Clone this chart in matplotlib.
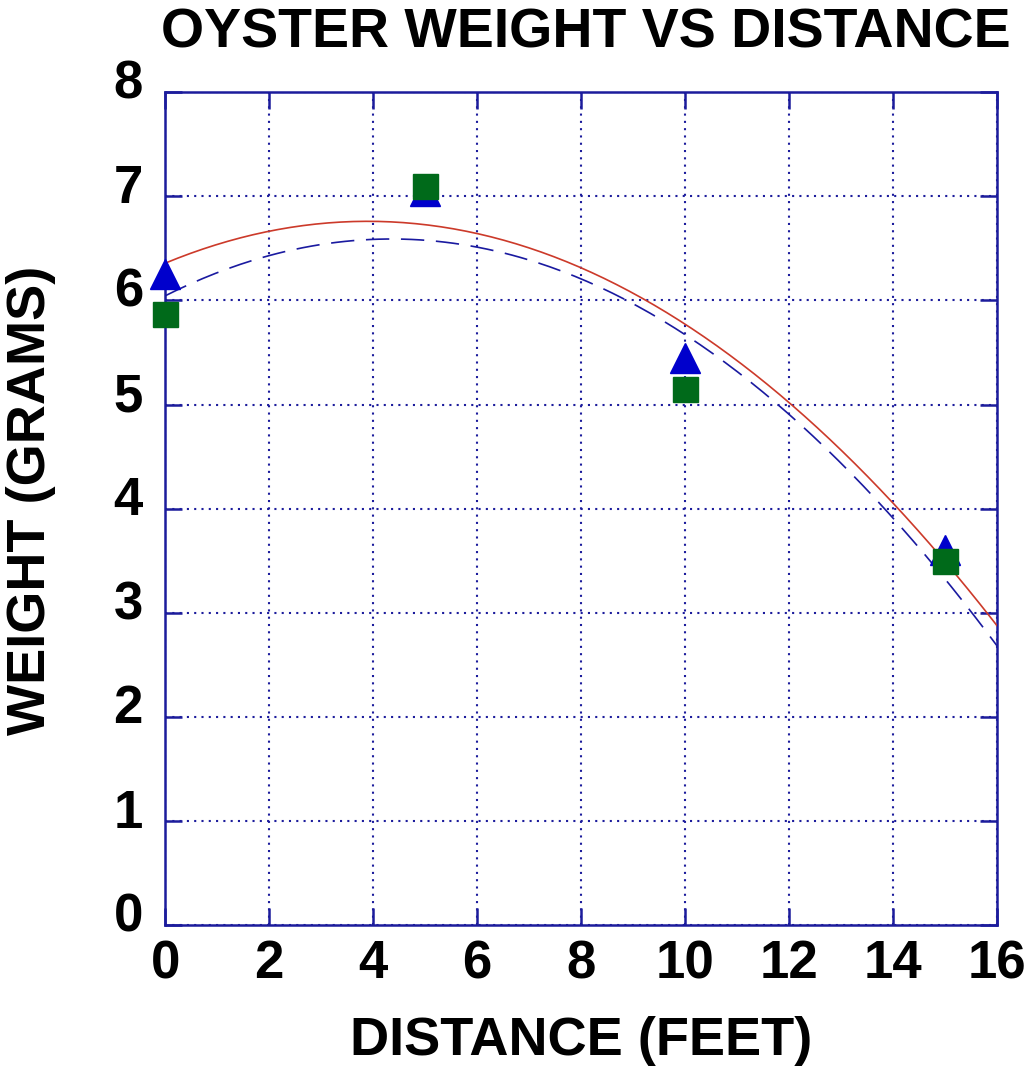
import matplotlib.pyplot as plt
import matplotlib.transforms as mtransforms
import numpy as np

# oyster data
distance = [0, 5, 10, 15]
weight_tri = [6.25, 7.05, 5.45, 3.6]
weight_sq = [5.87, 7.1, 5.15, 3.5]

x_ticks = [0, 2, 4, 6, 8, 10, 12, 14, 16]
y_ticks = [0, 1, 2, 3, 4, 5, 6, 7, 8]

plt.rcParams['font.family'] = ['Liberation Sans', 'DejaVu Sans']
plt.rcParams['font.weight'] = 'bold'

navy = '#1c1c9c'

fig = plt.figure(figsize=(10.32, 10.72), dpi=100)
ax = fig.add_axes([0.160, 0.137, 0.806, 0.777])

# quadratic fits
xs = np.linspace(0, 16, 200)
fit_tri = np.polyfit(distance, weight_tri, 2)
fit_sq = np.polyfit(distance, weight_sq, 2)
ax.plot(xs, np.polyval(fit_tri, xs), color='#cc3a2a', lw=1.2, zorder=3)
ax.plot(xs, np.polyval(fit_sq, xs), color='#1a1aa0', lw=1.2,
        dashes=(14, 7), zorder=3)

ax.plot(distance, weight_tri, ls='none', marker='^', ms=22,
        color='#0000cc', mec='#0000cc', zorder=4, clip_on=False)
ax.plot(distance, weight_sq, ls='none', marker='s', ms=18,
        color='#006a1a', mec='#006a1a', zorder=5, clip_on=False)

ax.set_xlim(0, 16)
ax.set_ylim(0, 8)
ax.set_xticks(x_ticks)
ax.set_yticks(y_ticks)
ax.grid(True, color=navy, ls=(0, (1, 2.5)), lw=1.5)
for sp in ax.spines.values():
    sp.set_color(navy)
    sp.set_linewidth(1.8)
ax.tick_params(direction='in', length=12, width=1.8, color=navy,
               top=True, right=True, labelsize=38)
ax.tick_params(axis='x', pad=10)
ax.tick_params(axis='y', pad=16)

# y tick labels sit a bit above their ticks in the original
shift = mtransforms.ScaledTranslation(0, 13 / 100, fig.dpi_scale_trans)
for lab in ax.get_yticklabels():
    lab.set_transform(lab.get_transform() + shift)
for lab in ax.get_xticklabels() + ax.get_yticklabels():
    lab.set_fontweight('bold')

ax.set_xlabel('DISTANCE (FEET)', fontsize=39, fontweight='bold', va='center')
ax.xaxis.set_label_coords(0.5, (925 - 1041) / 833)
ax.set_ylabel('WEIGHT (GRAMS)', fontsize=39, fontweight='bold', va='center')
ax.yaxis.set_label_coords((31 - 165) / 832, 0.51)
fig.text(586 / 1032, 1 - 34 / 1072, 'OYSTER WEIGHT VS DISTANCE',
         fontsize=40, fontweight='bold', ha='center', va='center')

fig.savefig('out.png', dpi=100)
